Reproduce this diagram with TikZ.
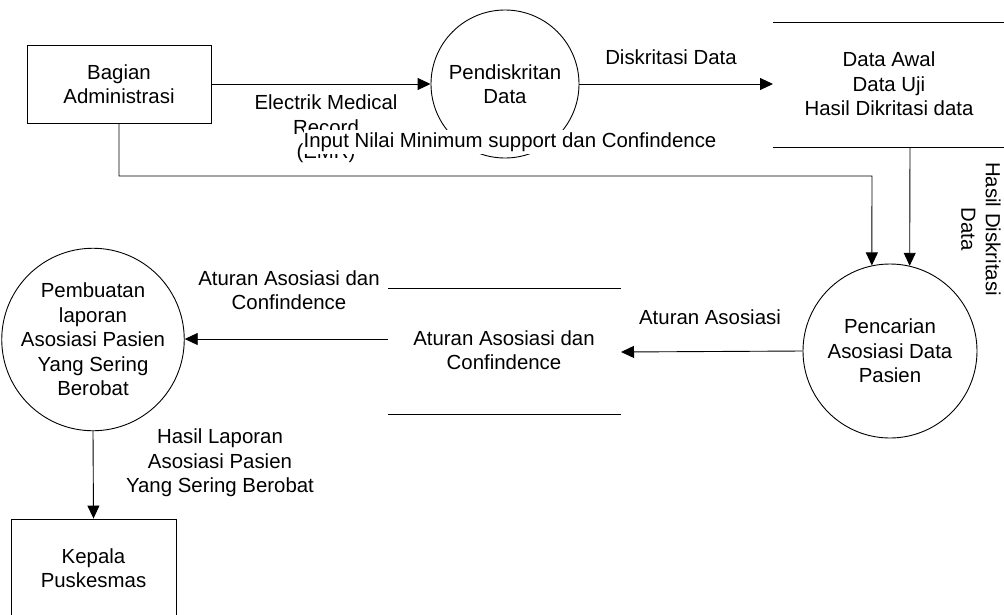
\documentclass[tikz,border=0pt]{standalone}
\usepackage{fontspec}
\setmainfont{Liberation Sans}
\usetikzlibrary{arrows.meta}
\begin{document}
\begin{tikzpicture}[x=1pt,y=-1pt,
  every node/.style={font=\fontsize{20.4}{24.5}\selectfont, align=center, inner sep=0pt},
  flow/.style={draw=black, line width=0.9pt},
  arr/.style={flow, -{Triangle[length=13pt,width=12pt]}},
  proc/.style={draw=black, line width=0.9pt, circle, inner sep=0pt},
  ent/.style={draw=black, line width=0.9pt, rectangle, inner sep=0pt},
  lbl/.style={inner sep=0pt},
  cover/.style={fill=white, inner xsep=0pt, inner ysep=2pt}]
\clip (0,0) rectangle (1004,614);
\fill[white] (0,0) rectangle (1004,614);

% entities
\node[ent, minimum width=184pt, minimum height=78pt] (bagian) at (119,84) {Bagian\\Administrasi};
\node[ent, minimum width=165pt, minimum height=98pt] (kepala) at (93.5,568) {Kepala\\Puskesmas};

% processes
\node[proc, minimum size=148pt] (pend) at (505,84) {Pendiskritan\\Data};
\node[proc, minimum size=174pt] (cari) at (890,351) {Pencarian\\Asosiasi Data\\Pasien};
\node[proc, minimum size=166pt] (buat) at (93,339.5) {Pembuatan\\laporan\\Asosiasi Pasien\\Yang Sering\\Berobat};

% data store 1
\coordinate (s1tl) at (773,22);
\coordinate (s1tr) at (1004,22);
\coordinate (s1bl) at (773,147);
\coordinate (s1br) at (1004,147);
\draw[flow] (s1tl) -- (s1tr);
\draw[flow] (s1bl) -- (s1br);
\node (store1) at (889,84) {Data Awal\\Data Uji\\Hasil Dikritasi data};

% data store 2
\coordinate (s2tl) at (388,288);
\coordinate (s2tr) at (621,288);
\coordinate (s2bl) at (388,414);
\coordinate (s2br) at (621,414);
\draw[flow] (s2tl) -- (s2tr);
\draw[flow] (s2bl) -- (s2br);
\node (store2) at (504,350) {Aturan Asosiasi dan\\Confindence};

% connectors
\coordinate (s1in) at (773,84);
\coordinate (s1out) at (910,147);
\coordinate (bend) at (872,176);
\coordinate (s2in) at (621,352);
\coordinate (s2out) at (388,339);

\draw[arr] (bagian.east |- pend.west) -- (pend.west);
\draw[arr] (pend.east) -- (s1in);
\draw[arr] (bagian.south) |- (bend) -- (cari.102);
\draw[arr] (s1out) -- (cari.77);
\draw[arr] (cari.west) -- (s2in);
\draw[arr] (s2out) -- (s2out -| buat.east);
\draw[arr] (buat.south) -- (kepala.north);

% labels
\node[lbl] (lemr) at (326,129) {Electrik Medical\\Record\\(EMR)};
\node[cover] (linput) at (510,142) {Input Nilai Minimum support dan Confindence};
\node[lbl] (ldisk) at (671,57) {Diskritasi Data};
\node[lbl, rotate=-90] (lhasil) at (981,229) {Hasil Diskritasi\\Data};
\node[lbl] (latur1) at (710,317) {Aturan Asosiasi};
\node[lbl] (latur2) at (289,290) {Aturan Asosiasi dan\\Confindence};
\node[lbl] (llap) at (220,463) {Hasil Laporan\\Asosiasi Pasien\\Yang Sering Berobat};
\end{tikzpicture}
\end{document}
